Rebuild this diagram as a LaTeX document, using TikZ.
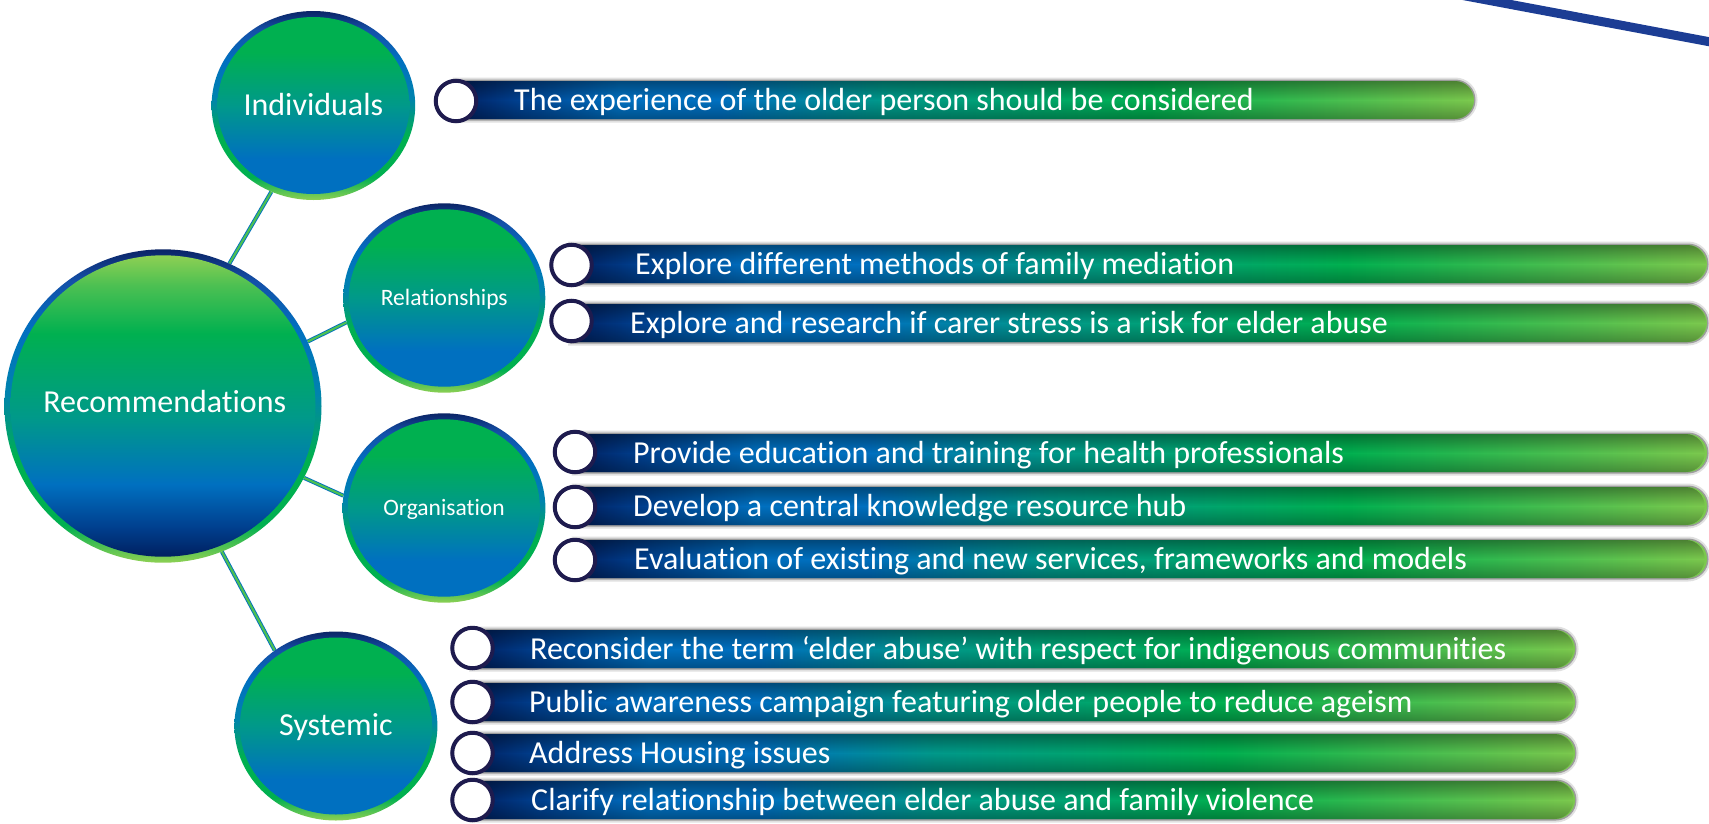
\documentclass[tikz,border=0pt]{standalone}
\usepackage{fontspec}
\setmainfont{Carlito}[Ligatures={NoCommon}]
\usetikzlibrary{shapes.geometric,fadings}
\definecolor{navyA}{HTML}{0B2466}
\definecolor{navyB}{HTML}{002060}
\definecolor{navyC}{HTML}{00408F}
\definecolor{ringB}{HTML}{1450A8}
\definecolor{blueA}{HTML}{0070C0}
\definecolor{blueT}{HTML}{0083AE}
\definecolor{tealA}{HTML}{00998A}
\definecolor{tealB}{HTML}{00A372}
\definecolor{greenA}{HTML}{00B050}
\definecolor{greenB}{HTML}{4CC052}
\definecolor{lgreenA}{HTML}{8ED053}
\definecolor{barG}{HTML}{7CC94E}
\definecolor{markc}{HTML}{1E1B4E}
\definecolor{topline}{HTML}{1C3D94}
\pgfdeclareverticalshading{smallfill}{100bp}{color(0bp)=(blueA); color(25bp)=(blueA); color(35bp)=(blueA); color(50bp)=(tealA); color(65bp)=(greenA); color(75bp)=(greenA); color(100bp)=(greenA)}
\pgfdeclareverticalshading{recfill}{100bp}{color(0bp)=(navyB); color(25bp)=(navyB); color(30bp)=(navyC); color(37bp)=(blueA); color(48bp)=(tealA); color(62bp)=(greenA); color(70bp)=(greenB); color(75bp)=(lgreenA); color(100bp)=(lgreenA)}
\pgfdeclareverticalshading{ringshade}{100bp}{color(0bp)=(lgreenA); color(25bp)=(lgreenA); color(31bp)=(greenA); color(42bp)=(greenA); color(52bp)=(blueT); color(62bp)=(blueA); color(70bp)=(ringB); color(75bp)=(navyA); color(100bp)=(navyA)}
\pgfdeclarehorizontalshading{barshade}{100bp}{color(0bp)=(navyB); color(25bp)=(navyB); color(28bp)=(navyC); color(33bp)=(blueA); color(38bp)=(blueA); color(46bp)=(tealA); color(52bp)=(tealB); color(59bp)=(greenA); color(75bp)=(barG); color(100bp)=(barG)}
\tikzfading[name=tube, top color=transparent!65, bottom color=transparent!72, middle color=transparent!100]
\pgfdeclarelayer{paper}
\pgfdeclarelayer{bg}
\pgfsetlayers{paper,bg,main}
\tikzset{
  ring/.style={ellipse, inner sep=0pt, shade, shading=ringshade},
  bigtext/.style={text=white, font=\fontsize{32}{36}\selectfont, anchor=base, inner sep=0pt},
  midtext/.style={text=white, font=\fontsize{23.5}{28}\selectfont, anchor=base, inner sep=0pt},
  bartext/.style={text=white, font=\fontsize{32}{36}\selectfont, anchor=base west, inner sep=0pt},
  marker/.style={circle, draw=markc, line width=4pt, fill=white, minimum size=40.5pt, inner sep=0pt},
  linkA/.style={line width=4pt, draw=blueA},
  linkB/.style={line width=2.2pt, draw=greenB},
}
\newcommand\mybar[3]{%
  \path[draw=black, opacity=0.12, line width=7pt] (#2,#1-19) -- (#3-19,#1-19) arc[start angle=90,end angle=-90,radius=19pt] -- (#2,#1+19) -- cycle;
  \path[draw=black, opacity=0.3, line width=3pt] (#2,#1-19) -- (#3-19,#1-19) arc[start angle=90,end angle=-90,radius=19pt] -- (#2,#1+19) -- cycle;
  \path[shade, shading=barshade] (#2,#1-19) -- (#3-19,#1-19) arc[start angle=90,end angle=-90,radius=19pt] -- (#2,#1+19) -- cycle;
  \path[fill=black, path fading=tube] (#2,#1-19) -- (#3-19,#1-19) arc[start angle=90,end angle=-90,radius=19pt] -- (#2,#1+19) -- cycle;
}
\begin{document}
\begin{tikzpicture}[x=1pt, y=-1pt]
\begin{pgfonlayer}{paper}
\fill[white] (0,0) rectangle (1709,823);
\end{pgfonlayer}
\useasboundingbox (0,0) rectangle (1709,823);

% top-right decorative line
\draw[line width=9pt, topline] (1455,-6) -- (1716,43);

% circles
\node[ring, minimum width=203.6pt, minimum height=189pt] (ind) at (313.4,105.5) {};
\node[ring, minimum width=202pt, minimum height=189.4pt] (rel) at (444.3,298) {};
\node[ring, minimum width=202.8pt, minimum height=189.4pt] (org) at (444,508) {};
\node[ring, minimum width=203pt, minimum height=189pt] (sys) at (335.9,726) {};
\node[ring, minimum width=317pt, minimum height=313.4pt] (rec) at (163,406) {};

\path[shade, shading=smallfill] (ind.center) ellipse [x radius=96pt, y radius=88.5pt];
\path[shade, shading=smallfill] (rel.center) ellipse [x radius=95.5pt, y radius=88.7pt];
\path[shade, shading=smallfill] (org.center) ellipse [x radius=95.9pt, y radius=88.7pt];
\path[shade, shading=smallfill] (sys.center) ellipse [x radius=96pt, y radius=88.5pt];
\path[shade, shading=recfill] (rec.center) ellipse [x radius=152.5pt, y radius=150.7pt];

\node[bigtext] (indt) at (313.4,115) {Individuals};
\node[midtext] (relt) at (444.3,305) {Relationships};
\node[midtext] (orgt) at (444,515.5) {Organisation};
\node[bigtext] (syst) at (335.9,735) {Systemic};
\node[bigtext] (rect) at (164.7,412.3) {Recommendations};

% connectors
\begin{pgfonlayer}{bg}
\draw[linkA] (ind.-116.8) -- (rec.65);
\draw[linkB] (ind.-116.8) -- (rec.65);
\draw[linkA] (rec.24.8) -- (rel.194.5);
\draw[linkB] (rec.24.8) -- (rel.194.5);
\draw[linkA] (rec.-27.7) -- (org.173.6);
\draw[linkB] (rec.-27.7) -- (org.173.6);
\draw[linkA] (rec.-68.8) -- (sys.129.7);
\draw[linkB] (rec.-68.8) -- (sys.129.7);
\end{pgfonlayer}

% bars
\mybar{100}{456}{1474}
\mybar{264}{571.5}{1707}
\mybar{323}{571.5}{1707}
\mybar{453}{575}{1707}
\mybar{506}{575}{1707}
\mybar{559}{575}{1707}
\mybar{649}{472.5}{1575}
\mybar{702}{472.5}{1575}
\mybar{753}{472.5}{1575}
\mybar{800}{472.5}{1575}

% markers
\node[marker] (m1) at (456,101) {};
\node[marker] (m2) at (571.5,265) {};
\node[marker] (m3) at (571.5,321) {};
\node[marker] (m4) at (575,452) {};
\node[marker] (m5) at (575,507) {};
\node[marker] (m6) at (575,560) {};
\node[marker] (m7) at (472.5,648) {};
\node[marker] (m8) at (472.5,702) {};
\node[marker] (m9) at (472.5,753) {};
\node[marker] (m10) at (472.5,800) {};

% bar texts
\node[bartext] (t1) at (514,110) {The experience of the older person should be considered};
\node[bartext] (t2) at (635,274) {Explore different methods of family mediation};
\node[bartext] (t3) at (630,333) {Explore and research if carer stress is a risk for elder abuse};
\node[bartext] (t4) at (633,463) {Provide education and training for health professionals};
\node[bartext] (t5) at (633,516) {Develop a central knowledge resource hub};
\node[bartext] (t6) at (634,569) {Evaluation of existing and new services, frameworks and models};
\node[bartext] (t7) at (530,659) {Reconsider the term ‘elder abuse’ with respect for indigenous communities};
\node[bartext] (t8) at (529,712) {Public awareness campaign featuring older people to reduce ageism};
\node[bartext] (t9) at (529,763) {Address Housing issues};
\node[bartext] (t10) at (531,810) {Clarify relationship between elder abuse and family violence};
\end{tikzpicture}
\end{document}
